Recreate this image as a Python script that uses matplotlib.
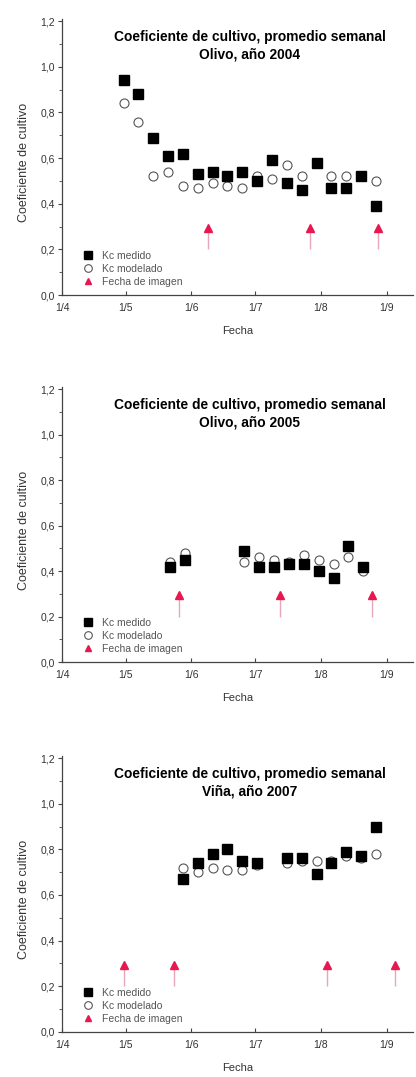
import matplotlib
matplotlib.use('Agg')
import matplotlib.pyplot as plt
import matplotlib.dates as mdates
from matplotlib.ticker import FuncFormatter, MultipleLocator
from matplotlib.lines import Line2D
import pandas as pd

plt.rcParams['font.family'] = ['Liberation Sans', 'DejaVu Sans']

# fechas dd/mm, todas las campañas en un mismo eje (abril-septiembre)
fechas_2004 = ['30/4', '7/5', '14/5', '21/5', '28/5', '4/6', '11/6', '18/6', '25/6',
               '2/7', '9/7', '16/7', '23/7', '30/7', '6/8', '13/8', '20/8', '27/8']
kc_med_2004 = [0.94, 0.88, 0.69, 0.61, 0.62, 0.53, 0.54, 0.52, 0.54,
               0.50, 0.59, 0.49, 0.46, 0.58, 0.47, 0.47, 0.52, 0.39]
kc_mod_2004 = [0.84, 0.76, 0.52, 0.54, 0.48, 0.47, 0.49, 0.48, 0.47,
               0.52, 0.51, 0.57, 0.52, 0.58, 0.52, 0.52, 0.52, 0.50]
img_2004 = ['9/6', '27/7', '28/8']

fechas_2005 = ['22/5', '29/5', '26/6', '3/7', '10/7', '17/7', '24/7', '31/7', '7/8', '14/8', '21/8']
kc_med_2005 = [0.42, 0.45, 0.49, 0.42, 0.42, 0.43, 0.43, 0.40, 0.37, 0.51, 0.42]
kc_mod_2005 = [0.44, 0.48, 0.44, 0.46, 0.45, 0.44, 0.47, 0.45, 0.43, 0.46, 0.40]
img_2005 = ['26/5', '13/7', '25/8']

fechas_2007 = ['28/5', '4/6', '11/6', '18/6', '25/6', '2/7', '16/7', '23/7', '30/7',
               '6/8', '13/8', '20/8', '27/8']
kc_med_2007 = [0.67, 0.74, 0.78, 0.80, 0.75, 0.74, 0.76, 0.76, 0.69, 0.74, 0.79, 0.77, 0.90]
kc_mod_2007 = [0.72, 0.70, 0.72, 0.71, 0.71, 0.73, 0.74, 0.75, 0.75, 0.75, 0.77, 0.76, 0.78]
img_2007 = ['30/4', '24/5', '4/8', '5/9']

titulos = ['Coeficiente de cultivo, promedio semanal\nOlivo, año 2004',
           'Coeficiente de cultivo, promedio semanal\nOlivo, año 2005',
           'Coeficiente de cultivo, promedio semanal\nViña, año 2007']

def a_fecha(lista):
    return pd.to_datetime([f + '/2004' for f in lista], format='%d/%m/%Y')

fig = plt.figure(figsize=(4.16, 10.77), dpi=100)
posiciones = [[0.149, 0.726, 0.844, 0.2565],
              [0.149, 0.3853, 0.844, 0.2555],
              [0.149, 0.0418, 0.844, 0.2565]]

paneles = [(fechas_2004, kc_med_2004, kc_mod_2004, img_2004),
           (fechas_2005, kc_med_2005, kc_mod_2005, img_2005),
           (fechas_2007, kc_med_2007, kc_mod_2007, img_2007)]

gris = '#333333'
rojo = '#e8174f'
for i, (fe, med, mod, img) in enumerate(paneles):
    ax = fig.add_axes(posiciones[i])
    x = a_fecha(fe)
    xi = a_fecha(img)
    ax.plot(x, mod, 'o', ms=6.5, mfc='white', mec='#555555', mew=0.8, zorder=3)
    ax.plot(x, med, 's', ms=7, color='black', zorder=4)
    # flechas de fecha de imagen
    ax.vlines(xi, 0.20, 0.29, color='#e6a8b8', lw=1.0, zorder=2)
    ax.plot(xi, [0.295] * len(xi), '^', ms=5.5, color=rojo, zorder=3)

    ax.set_ylim(0, 1.21)
    ax.set_xlim(pd.Timestamp('2004-04-01'), pd.Timestamp('2004-04-01') + pd.Timedelta(days=165.5))
    ax.xaxis.set_major_locator(mdates.MonthLocator())
    ax.xaxis.set_major_formatter(FuncFormatter(lambda v, p: f'{mdates.num2date(v).day}/{mdates.num2date(v).month}'))
    ax.yaxis.set_major_locator(MultipleLocator(0.2))
    ax.yaxis.set_minor_locator(MultipleLocator(0.1))
    ax.yaxis.set_major_formatter(FuncFormatter(lambda v, p: f'{v:.1f}'.replace('.', ',')))
    ax.spines['top'].set_visible(False)
    ax.spines['right'].set_visible(False)
    for s in ['left', 'bottom']:
        ax.spines[s].set_color('#444444')
        ax.spines[s].set_linewidth(0.9)
    ax.tick_params(axis='y', direction='out', length=3, width=0.8, labelsize=7.5, colors='#444444', labelcolor=gris, pad=2)
    ax.tick_params(axis='y', which='minor', direction='out', length=2, width=0.6, colors='#444444')
    ax.tick_params(axis='x', direction='in', length=3, width=0.8, labelsize=7.5, colors='#444444', labelcolor=gris, pad=6)
    ax.set_ylabel('Coeficiente de cultivo', fontsize=9, color=gris)
    ax.yaxis.set_label_coords(-0.09, 0.48)
    ax.set_xlabel('Fecha', fontsize=8, color=gris, labelpad=9)
    ax.text(0.535, 0.958, titulos[i], transform=ax.transAxes, ha='center', va='top',
            fontsize=9.9, fontweight='bold', linespacing=1.3)

    handles = [Line2D([], [], ls='none', marker='s', ms=6, color='black'),
               Line2D([], [], ls='none', marker='o', ms=5.5, mfc='white', mec='#555555', mew=0.8),
               Line2D([], [], ls='none', marker='^', ms=5, color=rojo)]
    ax.legend(handles, ['Kc medido', 'Kc modelado', 'Fecha de imagen'], loc='lower left',
              bbox_to_anchor=(0.03, 0.003), frameon=False, fontsize=7.5, labelcolor='#555555',
              handletextpad=0.5, labelspacing=0.3, borderpad=0.2, handlelength=1.6)

fig.savefig('out.png', dpi=100)
